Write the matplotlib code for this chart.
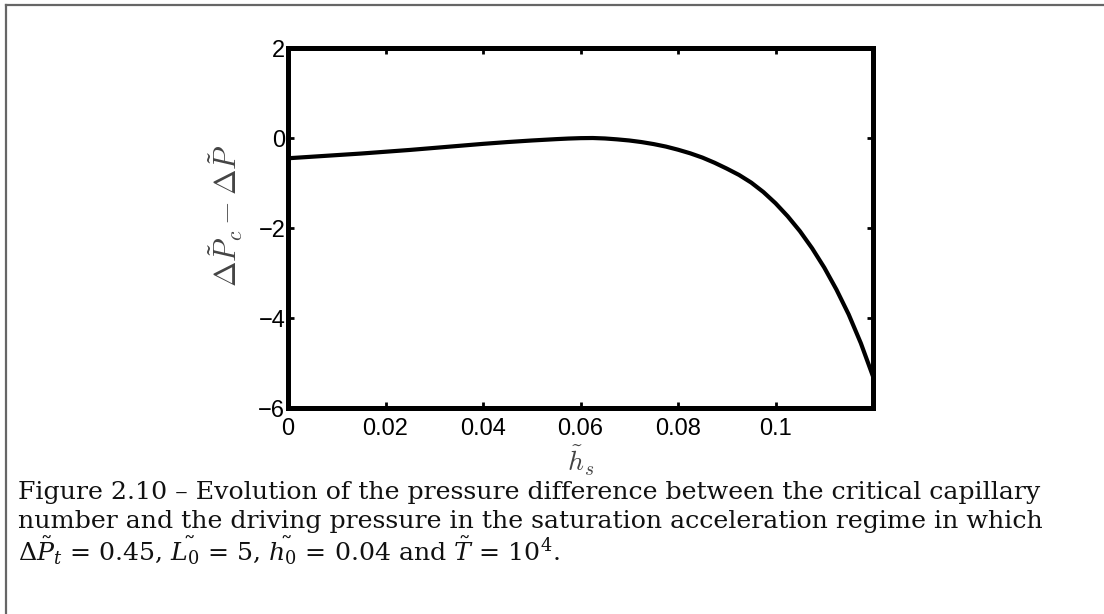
import numpy as np
import matplotlib
matplotlib.use("Agg")
import matplotlib.pyplot as plt
from matplotlib.lines import Line2D

# pressure difference vs. film thickness
hs = [0, 0.005, 0.01, 0.015, 0.02, 0.025, 0.03, 0.035, 0.04, 0.045, 0.05,
      0.055, 0.0575, 0.06, 0.0625, 0.065, 0.0675, 0.07, 0.0725, 0.075,
      0.0775, 0.08, 0.0825, 0.085, 0.0875, 0.09, 0.0925, 0.095, 0.0975,
      0.1, 0.1025, 0.105, 0.1075, 0.11, 0.1125, 0.115, 0.1175, 0.12]
dp = [-0.45, -0.415, -0.38, -0.345, -0.305, -0.265, -0.22, -0.175, -0.13, -0.09, -0.055,
      -0.025, -0.012, -0.003, 0.0, -0.01, -0.03, -0.055, -0.09, -0.135,
      -0.19, -0.26, -0.34, -0.435, -0.55, -0.68, -0.82, -0.99, -1.2,
      -1.45, -1.74, -2.07, -2.45, -2.88, -3.37, -3.92, -4.56, -5.3]

xticks = [0, 0.02, 0.04, 0.06, 0.08, 0.1]
xticklabels = ["0", "0.02", "0.04", "0.06", "0.08", "0.1"]
yticks = [2, 0, -2, -4, -6]
yticklabels = ["2", "0", "\u22122", "\u22124", "\u22126"]

caption = [
    "Figure 2.10 \u2013 Evolution of the pressure difference between the critical capillary",
    "number and the driving pressure in the saturation acceleration regime in which",
    r"$\Delta\tilde{P}_t$ = 0.45, $\tilde{L_0}$ = 5, $\tilde{h_0}$ = 0.04 and $\tilde{T}$ = 10$^4$.",
]
baselines = [499, 528, 561]

plt.rcParams['mathtext.fontset'] = 'cm'

fig = plt.figure(figsize=(11.04, 6.14), dpi=100)
ax = fig.add_axes([0.2609, 0.3355, 0.5299, 0.5863])

ax.plot(hs, dp, color='black', lw=3.0, solid_capstyle='butt')
ax.set_xlim(0, 0.12)
ax.set_ylim(-6, 2)
ax.set_xticks(xticks)
ax.set_xticklabels(xticklabels)
ax.set_yticks(yticks)
ax.set_yticklabels(yticklabels)
ax.tick_params(direction='in', length=4, width=2, top=True, right=True,
               labelsize=17, pad=2)
ax.tick_params(axis='x', pad=7)
for lab in ax.get_xticklabels() + ax.get_yticklabels():
    lab.set_family('Liberation Sans')
for sp in ax.spines.values():
    sp.set_linewidth(3.6)

ax.set_ylabel(r"$\Delta\tilde{P}_c - \Delta\tilde{P}$", fontsize=22, color='#444444')
ax.yaxis.set_label_coords(-0.073, 0.535)
ax.set_xlabel(r"$\tilde{h}_s$", fontsize=20, color='#444444', va='top')
ax.xaxis.set_label_coords(0.5, -0.1)

# frame round the figure
fig.add_artist(Line2D([0.0055, 0.0055], [0, 0.992], transform=fig.transFigure, color='#666666', lw=1.6))
fig.add_artist(Line2D([0.0055, 1], [0.992, 0.992], transform=fig.transFigure, color='#666666', lw=1.6))

for line, yb in zip(caption, baselines):
    fig.text(0.0165, 1 - yb / 614, line, fontsize=18.2, family='DejaVu Serif',
             math_fontfamily='dejavuserif', va='baseline', ha='left', color='#111111')

fig.savefig("out.png", dpi=100)
